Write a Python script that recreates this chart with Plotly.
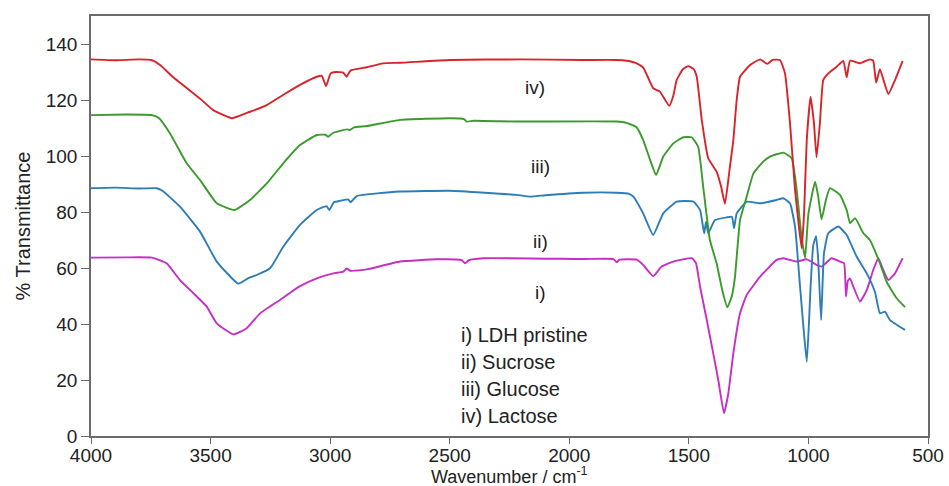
import plotly.graph_objects as go

# ---- data (wavenumber / cm-1, % transmittance) ----
lactose_wn = [4000, 3900, 3800, 3745, 3711, 3656, 3572, 3544, 3489, 3410, 3335, 3265, 3197, 3126, 3056, 3035, 3017, 2998, 2975, 2945, 2931, 2915, 2847, 2779, 2708, 2499, 2200, 1950, 1802, 1760, 1718, 1690, 1649, 1621, 1582, 1565, 1551, 1525, 1502, 1480, 1467, 1446, 1419, 1384, 1365, 1349, 1330, 1314, 1300, 1286, 1244, 1202, 1172, 1150, 1119, 1098, 1077, 1056, 1040, 1028, 1018, 1007, 991, 977, 966, 952, 938, 917, 882, 854, 840, 826, 784, 743, 729, 717, 701, 666, 638, 606]
lactose_t = [134.5, 134.2, 134.5, 134.2, 132.5, 128.1, 122.4, 120.5, 116.4, 113.5, 115.8, 118.2, 121.8, 125.4, 128.3, 128.6, 125.0, 129.5, 130.0, 129.8, 128.3, 130.5, 131.7, 133.1, 133.3, 134.3, 134.5, 134.3, 134.3, 134.0, 133.1, 131.5, 124.2, 123.0, 117.9, 121.5, 127.1, 131.0, 132.1, 131.0, 128.3, 112.9, 99.2, 94.4, 89.0, 82.9, 95.0, 105.7, 120.0, 128.3, 132.5, 134.5, 132.9, 134.3, 134.3, 129.5, 111.7, 87.9, 75.0, 67.0, 80.0, 105.7, 121.2, 111.8, 99.5, 111.8, 127.1, 129.5, 131.9, 134.0, 128.1, 134.0, 133.1, 134.5, 134.0, 126.2, 131.0, 122.1, 127.1, 134.0]

glucose_wn = [4000, 3850, 3745, 3715, 3670, 3600, 3544, 3474, 3400, 3335, 3265, 3196, 3126, 3056, 3020, 3008, 2987, 2930, 2917, 2900, 2847, 2708, 2499, 2440, 2429, 2400, 2220, 1802, 1760, 1718, 1691, 1662, 1637, 1607, 1565, 1523, 1488, 1461, 1440, 1412, 1384, 1360, 1339, 1320, 1307, 1286, 1258, 1230, 1189, 1161, 1105, 1070, 1049, 1030, 1014, 1000, 972, 959, 945, 927, 910, 868, 840, 826, 805, 770, 743, 701, 673, 631, 596]
glucose_t = [114.6, 114.8, 114.6, 113.5, 108.1, 97.4, 91.4, 83.1, 80.7, 84.3, 90.2, 97.4, 103.9, 107.5, 107.6, 106.9, 108.3, 109.5, 109.3, 110.2, 110.7, 112.9, 113.5, 113.2, 112.3, 112.6, 112.3, 112.3, 111.8, 110.2, 105.7, 98.6, 93.2, 99.8, 104.5, 106.7, 106.7, 103.3, 89.0, 70.0, 61.7, 52.0, 46.0, 50.0, 56.9, 77.1, 85.5, 93.8, 98.0, 99.8, 101.2, 99.2, 87.9, 72.0, 63.6, 79.5, 90.8, 85.5, 77.4, 84.3, 88.5, 86.1, 80.7, 76.0, 77.8, 72.4, 70.0, 61.7, 55.1, 49.2, 46.0]

sucrose_wn = [4000, 3900, 3800, 3725, 3700, 3628, 3544, 3474, 3384, 3340, 3307, 3251, 3196, 3126, 3056, 3015, 3003, 2985, 2973, 2925, 2914, 2889, 2708, 2499, 2220, 2164, 2100, 1941, 1802, 1750, 1732, 1691, 1649, 1607, 1551, 1481, 1453, 1436, 1428, 1419, 1391, 1342, 1320, 1311, 1300, 1258, 1202, 1133, 1105, 1077, 1056, 1035, 1020, 1007, 998, 991, 980, 968, 959, 947, 935, 917, 875, 840, 798, 756, 722, 701, 680, 659, 596]
sucrose_t = [88.5, 88.7, 88.4, 88.5, 87.5, 81.9, 73.0, 62.3, 54.4, 56.5, 57.5, 59.9, 67.6, 75.4, 80.7, 82.1, 80.7, 83.5, 83.7, 84.5, 83.5, 85.7, 87.3, 87.6, 86.1, 85.5, 86.0, 86.9, 86.9, 86.5, 85.5, 79.5, 71.8, 79.5, 83.7, 83.7, 80.7, 72.4, 76.5, 72.4, 77.1, 78.1, 78.3, 74.2, 79.5, 83.7, 83.1, 84.3, 84.9, 83.1, 74.8, 53.3, 38.0, 26.5, 40.0, 53.3, 68.0, 71.4, 62.9, 41.4, 65.2, 72.4, 74.8, 71.8, 64.0, 58.1, 51.5, 43.8, 44.4, 41.4, 37.9]

ldh_wn = [4000, 3850, 3746, 3684, 3628, 3572, 3516, 3474, 3405, 3349, 3293, 3210, 3126, 3056, 2987, 2945, 2931, 2915, 2847, 2708, 2554, 2450, 2436, 2420, 2359, 1941, 1815, 1802, 1790, 1718, 1691, 1649, 1614, 1565, 1488, 1470, 1453, 1425, 1398, 1377, 1353, 1335, 1314, 1286, 1258, 1202, 1133, 1105, 1049, 1007, 966, 945, 903, 868, 851, 843, 835, 826, 812, 784, 756, 729, 708, 687, 666, 638, 606]
ldh_t = [63.7, 63.8, 63.7, 61.7, 55.7, 51.0, 46.2, 40.2, 36.3, 38.5, 43.8, 48.6, 53.5, 56.3, 58.1, 58.7, 59.8, 59.0, 59.5, 62.3, 63.1, 62.8, 61.7, 62.8, 63.5, 63.2, 63.2, 62.0, 63.0, 63.0, 61.1, 57.1, 60.5, 62.3, 63.5, 61.7, 53.3, 41.4, 29.5, 20.0, 8.1, 15.2, 29.5, 43.8, 50.4, 56.9, 62.9, 63.5, 62.3, 63.1, 61.1, 60.5, 63.5, 62.3, 61.7, 49.8, 55.5, 56.3, 53.3, 48.0, 52.1, 59.3, 63.5, 59.3, 55.7, 58.1, 63.5]

curve_labels = ["i)", "ii)", "iii)", "iv)"]
legend_lines = ["i) LDH pristine", "ii) Sucrose", "iii) Glucose", "iv) Lactose"]
x_ticks = [4000, 3500, 3000, 2500, 2000, 1500, 1000, 500]
y_ticks = [0, 20, 40, 60, 80, 100, 120, 140]
x_title = "Wavenumber / cm<sup>-1</sup>"
y_title = "% Transmittance"

# ---- figure ----
series = [
    (ldh_wn, ldh_t, "#c62ec6"),
    (sucrose_wn, sucrose_t, "#2f7db6"),
    (glucose_wn, glucose_t, "#3a9a2c"),
    (lactose_wn, lactose_t, "#d9232a"),
]

FONT = "Liberation Sans, Arial, sans-serif"
INK = "#222222"

fig = go.Figure()
for wn, t, col in series:
    fig.add_trace(go.Scatter(x=wn, y=t, mode="lines",
                             line=dict(color=col, width=1.9, shape="spline", smoothing=0.4),
                             showlegend=False, hoverinfo="skip"))

label_pos = [(2122, 51.4), (2122, 69.3), (2122, 96.1), (2143, 124.3)]
for lab, (xx, yy) in zip(curve_labels, label_pos):
    fig.add_annotation(x=xx, y=yy, text=lab, showarrow=False,
                       font=dict(family=FONT, size=19, color=INK),
                       xanchor="center", yanchor="middle")

leg_y = [36.1, 26.3, 16.9, 7.2]
for lab, yy in zip(legend_lines, leg_y):
    fig.add_annotation(x=2461, y=yy, text=lab, showarrow=False,
                       font=dict(family=FONT, size=20, color=INK),
                       xanchor="left", yanchor="middle")

# x-axis title placed below the tick labels
fig.add_annotation(xref="paper", yref="paper", x=0.5, y=-0.095, text=x_title,
                   showarrow=False, borderpad=0,
                   font=dict(family=FONT, size=18, color=INK),
                   xanchor="center", yanchor="middle")

axis_common = dict(showline=True, mirror=True, linecolor="#6a6a6a", linewidth=1.5,
                   ticks="outside", tickcolor="#6a6a6a", tickwidth=1.3,
                   showgrid=False, zeroline=False, automargin=False,
                   tickfont=dict(family=FONT, size=19, color=INK))

fig.update_layout(
    width=949, height=486,
    margin=dict(l=91, r=21, t=16, b=50),
    plot_bgcolor="white", paper_bgcolor="white",
    xaxis=dict(range=[4000, 500], tickvals=x_ticks, ticklen=6, ticklabelstandoff=-5,
               **axis_common),
    yaxis=dict(range=[0, 150], tickvals=y_ticks, ticklen=8,
               title=dict(text=y_title, standoff=10,
                          font=dict(family=FONT, size=20, color=INK)),
               **axis_common),
)

fig.write_html("out.html")
